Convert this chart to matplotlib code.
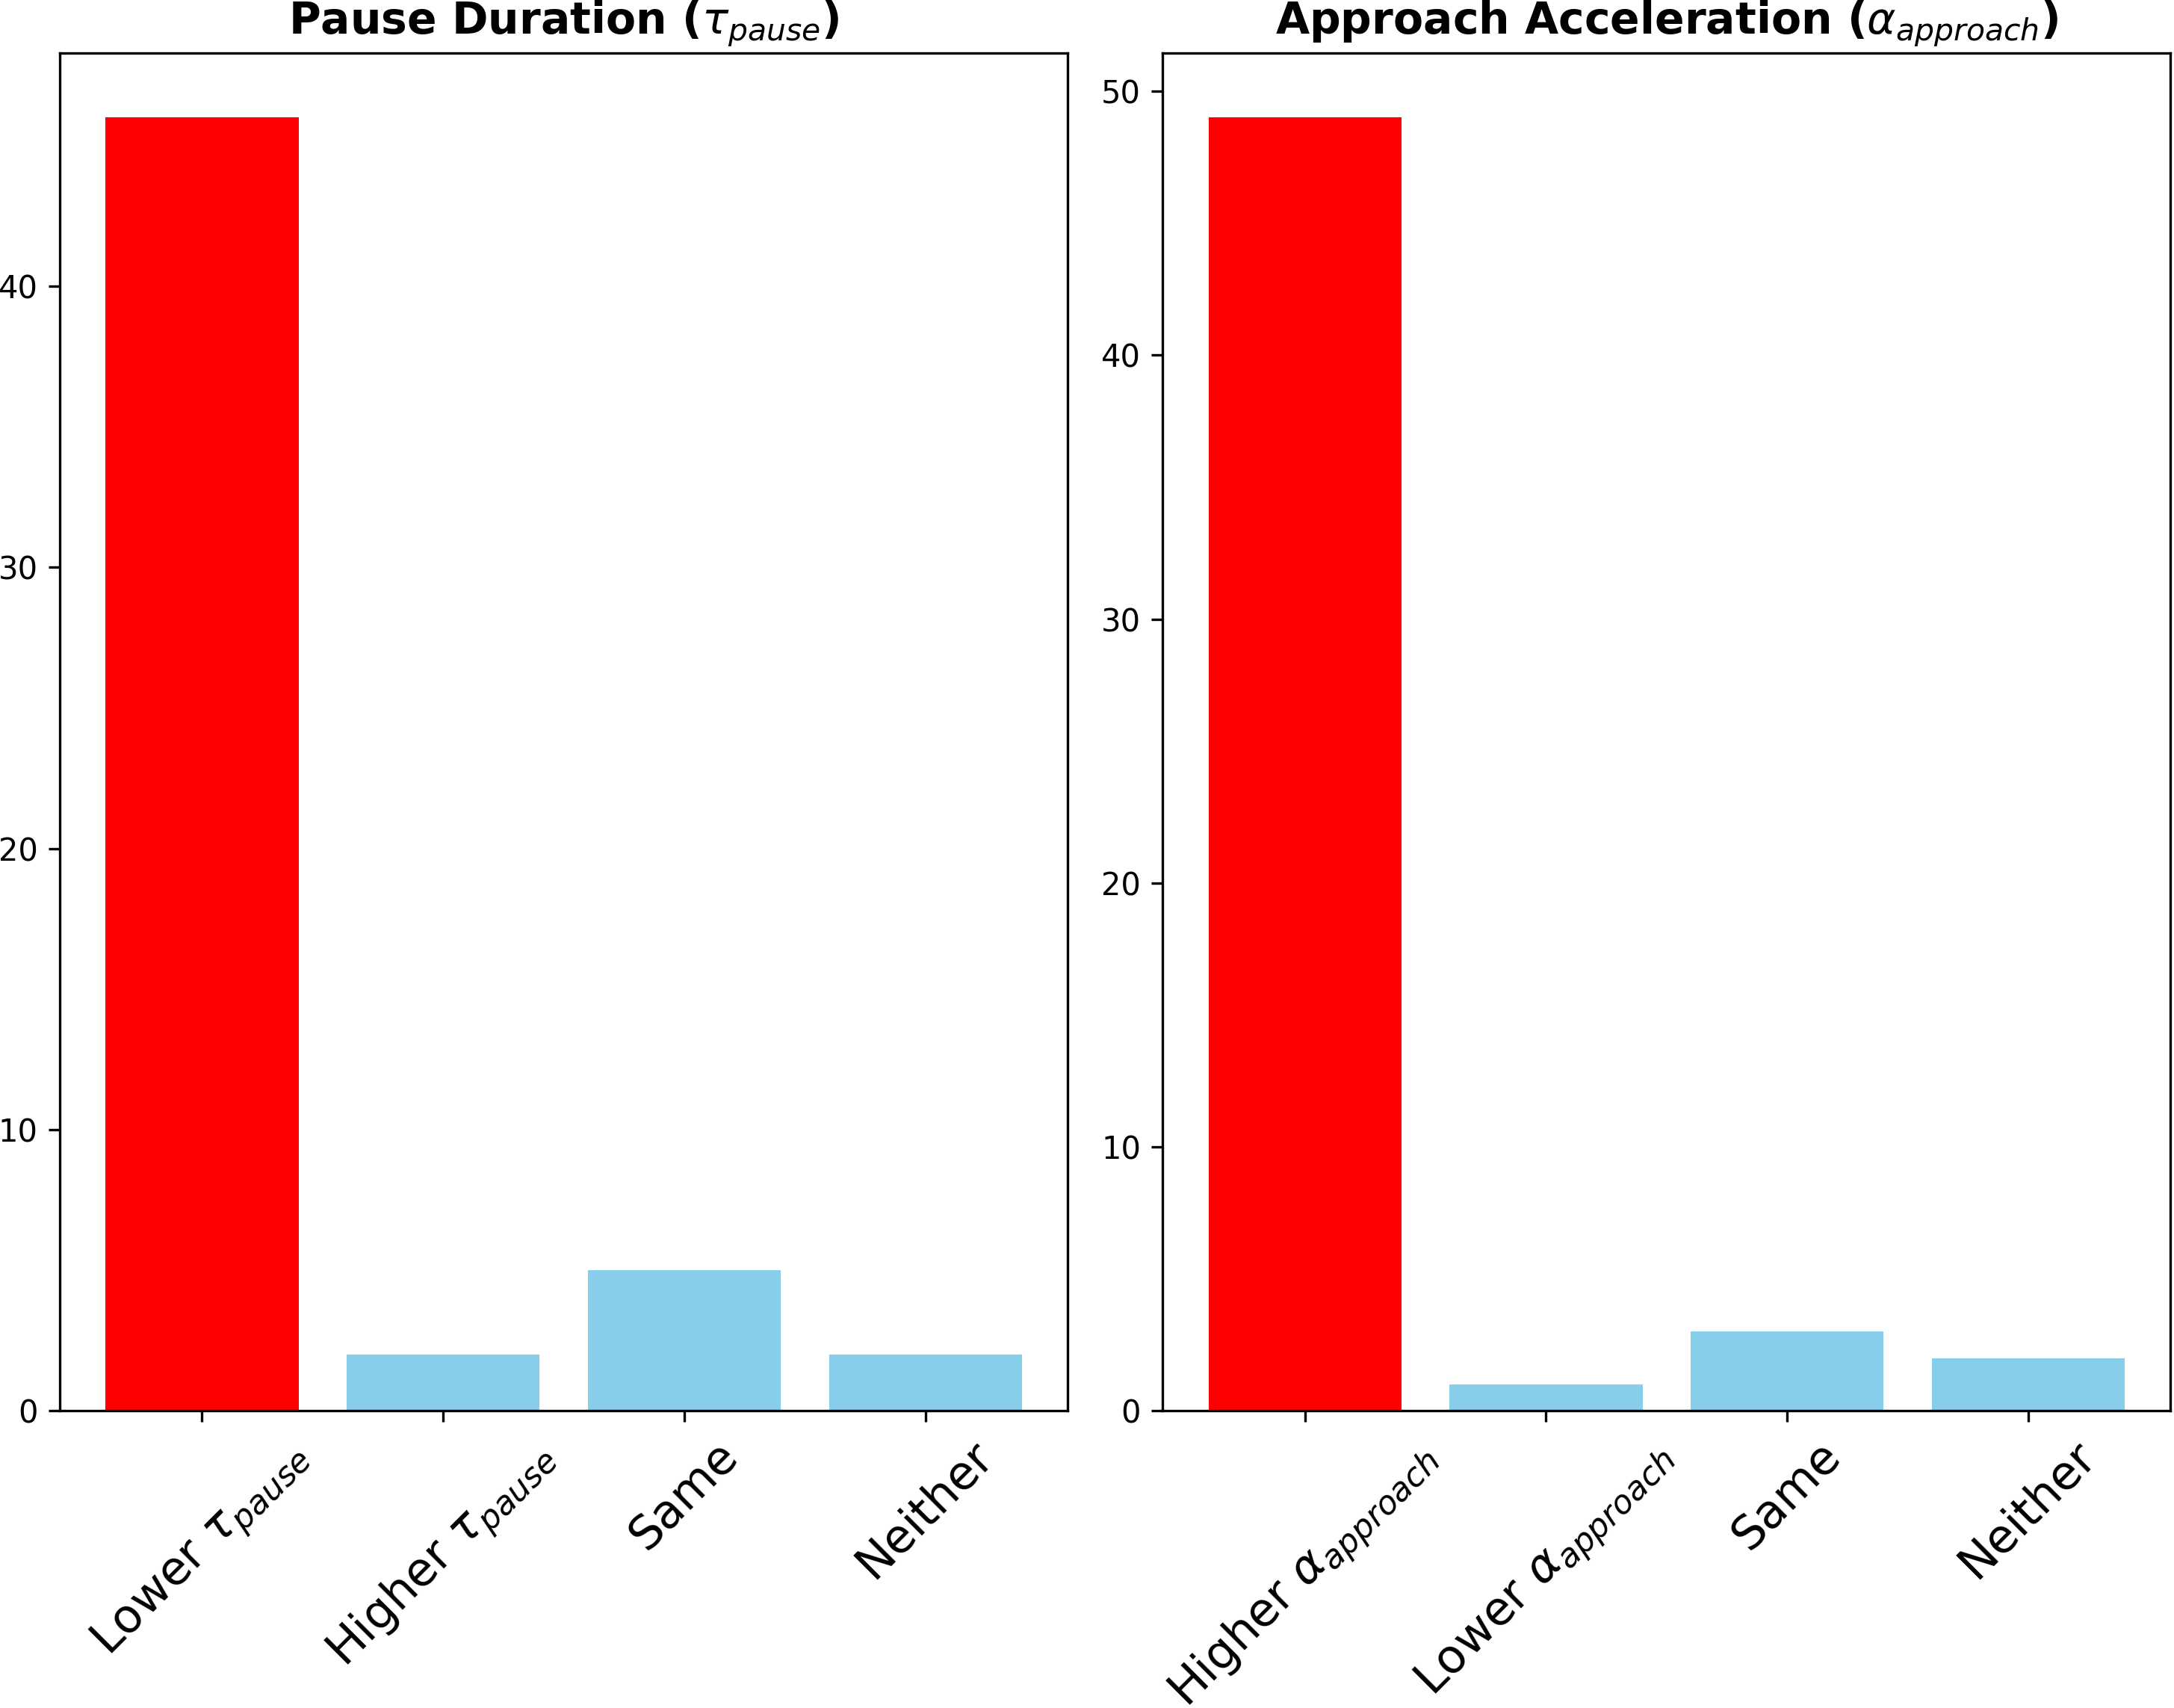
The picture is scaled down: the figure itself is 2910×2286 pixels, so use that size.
import matplotlib
matplotlib.use("Agg")
import matplotlib.pyplot as plt

# pause duration panel
pause_labels = [r"Lower $\tau_{pause}$", r"Higher $\tau_{pause}$", "Same", "Neither"]
pause_counts = [46, 2, 5, 2]
pause_colors = ["red", "skyblue", "skyblue", "skyblue"]

# approach acceleration panel
accel_labels = [r"Higher $\alpha_{approach}$", r"Lower $\alpha_{approach}$", "Same", "Neither"]
accel_counts = [49, 1, 3, 2]
accel_colors = ["red", "skyblue", "skyblue", "skyblue"]

fig = plt.figure(figsize=(9.7, 7.62), dpi=300)
ax1 = fig.add_axes([0.0275, 0.174, 0.4636, 0.795])
ax2 = fig.add_axes([0.5348, 0.174, 0.4636, 0.795])

ax1.bar(pause_labels, pause_counts, color=pause_colors)
ax1.set_title(r"Pause Duration ($\tau_{pause}$)", fontsize=14, fontweight="bold")

ax2.bar(accel_labels, accel_counts, color=accel_colors)
ax2.set_title(r"Approach Acceleration ($\alpha_{approach}$)", fontsize=14, fontweight="bold")

for ax in (ax1, ax2):
    ax.tick_params(axis="x", labelsize=15, labelrotation=45)
    ax.tick_params(axis="y", labelsize=10)

fig.savefig("out.png", dpi=300)
